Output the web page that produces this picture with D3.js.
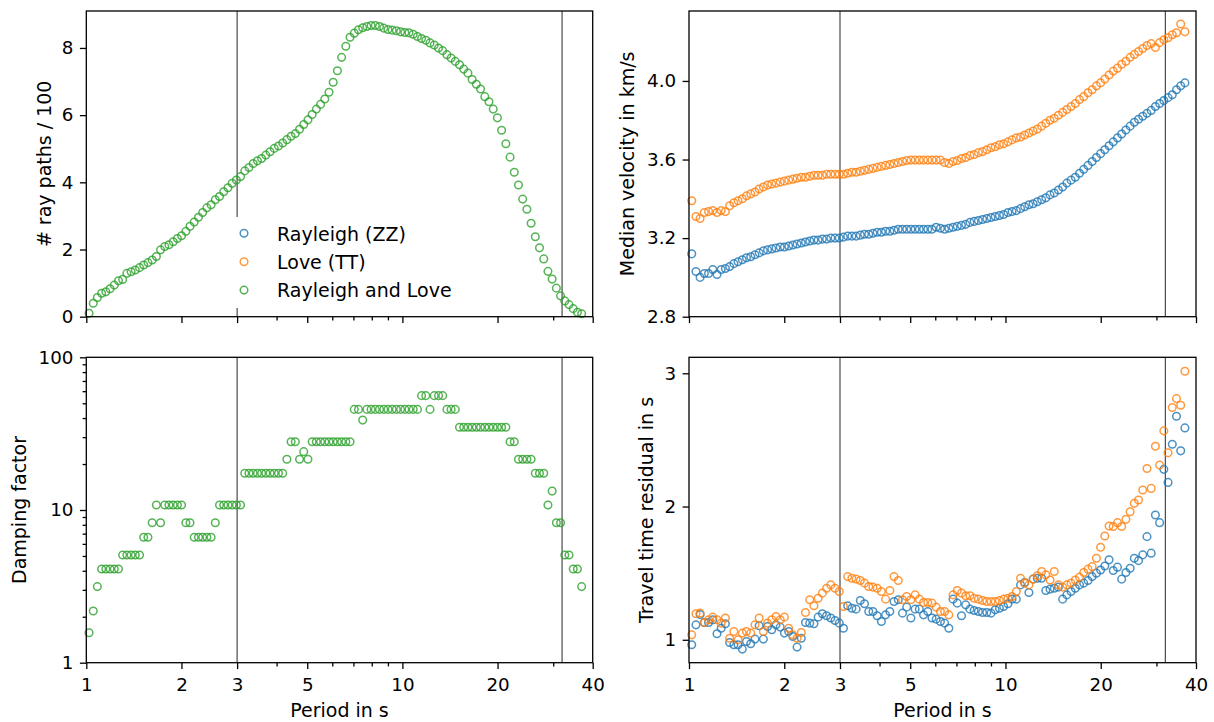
<!DOCTYPE html>
<html>
<head>
<meta charset="utf-8">
<script src="https://cdn.jsdelivr.net/npm/d3@7"></script>
<style>
    body { margin: 0; background: #fff; }
    svg { font-family: "DejaVu Sans", sans-serif; }
</style>
</head>
<body>
<div id="chart"></div>
<script>
let periods = [
    1.020, 1.052, 1.084, 1.118, 1.153, 1.189, 1.226, 1.264, 1.303, 1.344,
    1.386, 1.429, 1.474, 1.519, 1.567, 1.616, 1.666, 1.718, 1.771, 1.826,
    1.883, 1.942, 2.002, 2.065, 2.129, 2.195, 2.264, 2.334, 2.407, 2.482,
    2.559, 2.639, 2.721, 2.806, 2.893, 2.984, 3.076, 3.172, 3.271, 3.373,
    3.478, 3.586, 3.698, 3.813, 3.932, 4.055, 4.181, 4.311, 4.445, 4.584,
    4.727, 4.874, 5.026, 5.182, 5.343, 5.510, 5.682, 5.859, 6.041, 6.229,
    6.423, 6.623, 6.830, 7.042, 7.262, 7.488, 7.721, 7.961, 8.209, 8.465,
    8.729, 9.001, 9.281, 9.570, 9.868, 10.18, 10.49, 10.82, 11.16, 11.50,
    11.86, 12.23, 12.61, 13.01, 13.41, 13.83, 14.26, 14.70, 15.16, 15.63,
    16.12, 16.62, 17.14, 17.67, 18.23, 18.79, 19.38, 19.98, 20.60, 21.25,
    21.91, 22.59, 23.29, 24.02, 24.77, 25.54, 26.33, 27.15, 28.00, 28.87,
    29.77, 30.70, 31.65, 32.64, 33.66, 34.71, 35.79, 36.90
];

// Number of ray paths / 100 (Rayleigh and Love)
let rayPaths = [
    0.10, 0.40, 0.57, 0.70, 0.74, 0.83, 0.94, 1.07, 1.11, 1.29,
    1.34, 1.39, 1.46, 1.54, 1.61, 1.69, 1.79, 1.99, 2.09, 2.14,
    2.23, 2.33, 2.41, 2.54, 2.69, 2.82, 2.96, 3.10, 3.24, 3.33,
    3.48, 3.58, 3.72, 3.84, 3.97, 4.07, 4.17, 4.34, 4.44, 4.56,
    4.64, 4.71, 4.81, 4.91, 5.01, 5.08, 5.17, 5.27, 5.37, 5.45,
    5.58, 5.72, 5.86, 6.02, 6.18, 6.32, 6.48, 6.68, 6.98, 7.32,
    7.72, 8.05, 8.32, 8.44, 8.54, 8.60, 8.64, 8.67, 8.67, 8.64,
    8.59, 8.55, 8.53, 8.51, 8.48, 8.46, 8.45, 8.41, 8.34, 8.28,
    8.23, 8.15, 8.09, 8.00, 7.92, 7.80, 7.70, 7.60, 7.50, 7.37,
    7.25, 7.06, 6.92, 6.78, 6.55, 6.40, 6.18, 5.92, 5.55, 5.15,
    4.75, 4.30, 3.92, 3.50, 3.20, 2.78, 2.38, 2.05, 1.72, 1.35,
    1.12, 0.85, 0.62, 0.47, 0.36, 0.24, 0.13, 0.09
];

// Median velocity in km/s
let velRayleigh = [
    3.12, 3.03, 3.00, 3.02, 3.02, 3.04, 3.015, 3.04, 3.045, 3.055,
    3.07, 3.08, 3.09, 3.10, 3.105, 3.115, 3.125, 3.135, 3.14, 3.145,
    3.15, 3.155, 3.155, 3.16, 3.165, 3.17, 3.175, 3.18, 3.185, 3.19,
    3.19, 3.195, 3.195, 3.20, 3.20, 3.20, 3.205, 3.21, 3.21, 3.21,
    3.215, 3.22, 3.22, 3.225, 3.23, 3.23, 3.235, 3.235, 3.24, 3.245,
    3.245, 3.245, 3.245, 3.245, 3.245, 3.245, 3.245, 3.245, 3.255, 3.25,
    3.245, 3.25, 3.255, 3.26, 3.265, 3.27, 3.28, 3.285, 3.29, 3.295,
    3.30, 3.305, 3.31, 3.315, 3.32, 3.33, 3.335, 3.34, 3.35, 3.36,
    3.37, 3.375, 3.385, 3.395, 3.405, 3.42, 3.43, 3.445, 3.46, 3.48,
    3.495, 3.51, 3.53, 3.55, 3.57, 3.59, 3.61, 3.63, 3.65, 3.67,
    3.69, 3.71, 3.73, 3.75, 3.77, 3.79, 3.805, 3.82, 3.835, 3.85,
    3.87, 3.885, 3.90, 3.915, 3.93, 3.955, 3.975, 3.99
];

let velLove = [
    3.39, 3.31, 3.30, 3.33, 3.335, 3.34, 3.33, 3.34, 3.335, 3.365,
    3.38, 3.39, 3.40, 3.415, 3.425, 3.435, 3.45, 3.46, 3.47, 3.475,
    3.48, 3.485, 3.49, 3.495, 3.50, 3.505, 3.51, 3.51, 3.515, 3.52,
    3.52, 3.52, 3.525, 3.525, 3.525, 3.525, 3.525, 3.53, 3.535, 3.535,
    3.54, 3.545, 3.55, 3.555, 3.56, 3.565, 3.57, 3.575, 3.58, 3.585,
    3.59, 3.595, 3.597, 3.597, 3.597, 3.597, 3.597, 3.597, 3.597, 3.597,
    3.585, 3.58, 3.59, 3.595, 3.605, 3.61, 3.62, 3.625, 3.635, 3.64,
    3.65, 3.66, 3.665, 3.675, 3.68, 3.69, 3.70, 3.71, 3.715, 3.725,
    3.735, 3.745, 3.755, 3.77, 3.785, 3.80, 3.81, 3.825, 3.84, 3.855,
    3.87, 3.885, 3.905, 3.92, 3.94, 3.955, 3.975, 3.99, 4.01, 4.03,
    4.05, 4.065, 4.085, 4.10, 4.12, 4.135, 4.15, 4.165, 4.18, 4.19,
    4.17, 4.195, 4.21, 4.22, 4.235, 4.245, 4.29, 4.25
];

// Damping factor (Rayleigh and Love)
let damping = [
    1.57, 2.18, 3.15, 4.11, 4.11, 4.11, 4.11, 4.11, 5.07, 5.07,
    5.07, 5.07, 5.07, 6.63, 6.63, 8.26, 10.78, 8.26, 10.78, 10.78,
    10.78, 10.78, 10.78, 8.26, 8.26, 6.63, 6.63, 6.63, 6.63, 6.63,
    8.26, 10.78, 10.78, 10.78, 10.78, 10.78, 10.78, 17.4, 17.4, 17.4,
    17.4, 17.4, 17.4, 17.4, 17.4, 17.4, 17.4, 21.5, 28.0, 28.0,
    21.5, 24.1, 21.5, 28.0, 28.0, 28.0, 28.0, 28.0, 28.0, 28.0,
    28.0, 28.0, 28.0, 45.6, 45.6, 38.8, 45.6, 45.6, 45.6, 45.6,
    45.6, 45.6, 45.6, 45.6, 45.6, 45.6, 45.6, 45.6, 45.6, 56.1,
    56.1, 45.6, 56.1, 56.1, 56.1, 45.6, 45.6, 45.6, 34.8, 34.8,
    34.8, 34.8, 34.8, 34.8, 34.8, 34.8, 34.8, 34.8, 34.8, 34.8,
    28.0, 28.0, 21.5, 21.5, 21.5, 21.5, 17.4, 17.4, 17.4, 10.78,
    13.3, 8.26, 8.26, 5.07, 5.07, 4.11, 4.11, 3.15
];

// Travel time residual in s
let resRayleigh = [
    0.963, 1.112, 1.19, 1.13, 1.13, 1.15, 1.045, 1.087, 1.12, 0.98,
    0.963, 0.963, 0.93, 0.987, 0.97, 1.005, 1.105, 1.005, 1.10, 1.075,
    1.112, 1.095, 1.05, 1.062, 1.025, 0.945, 1.012, 1.13, 1.125, 1.12,
    1.17, 1.195, 1.18, 1.163, 1.145, 1.125, 1.087, 1.255, 1.237, 1.23,
    1.295, 1.27, 1.212, 1.212, 1.18, 1.137, 1.187, 1.212, 1.287, 1.30,
    1.20, 1.245, 1.163, 1.23, 1.23, 1.187, 1.212, 1.163, 1.155, 1.137,
    1.125, 1.087, 1.305, 1.275, 1.18, 1.262, 1.23, 1.22, 1.212, 1.205,
    1.205, 1.20, 1.225, 1.237, 1.25, 1.27, 1.305, 1.305, 1.412, 1.43,
    1.355, 1.455, 1.462, 1.462, 1.37, 1.38, 1.387, 1.395, 1.305, 1.337,
    1.362, 1.387, 1.412, 1.425, 1.445, 1.474, 1.50, 1.524, 1.554, 1.60,
    1.52, 1.545, 1.455, 1.505, 1.537, 1.612, 1.594, 1.637, 1.774, 1.65,
    1.936, 1.879, 2.279, 2.181, 2.468, 2.678, 2.418, 2.59
];

let resLove = [
    1.037, 1.195, 1.20, 1.13, 1.15, 1.17, 1.15, 1.125, 1.163, 1.012,
    1.062, 1.0, 1.05, 1.062, 1.05, 1.112, 1.163, 1.062, 1.125, 1.15,
    1.175, 1.15, 1.17, 1.087, 1.037, 1.012, 1.055, 1.205, 1.30, 1.255,
    1.312, 1.35, 1.387, 1.412, 1.387, 1.362, 1.25, 1.474, 1.462, 1.455,
    1.445, 1.425, 1.40, 1.395, 1.387, 1.362, 1.305, 1.37, 1.474, 1.445,
    1.30, 1.325, 1.30, 1.337, 1.305, 1.28, 1.28, 1.275, 1.245, 1.212,
    1.212, 1.187, 1.337, 1.37, 1.35, 1.33, 1.33, 1.312, 1.305, 1.295,
    1.287, 1.287, 1.287, 1.295, 1.305, 1.312, 1.325, 1.362, 1.462, 1.425,
    1.412, 1.455, 1.48, 1.512, 1.487, 1.449, 1.512, 1.412, 1.395, 1.412,
    1.425, 1.449, 1.47, 1.505, 1.53, 1.549, 1.612, 1.694, 1.779, 1.854,
    1.85, 1.879, 1.85, 1.904, 1.961, 2.024, 2.049, 2.124, 2.286, 2.136,
    2.453, 2.311, 2.568, 2.403, 2.743, 2.81, 2.76, 3.015
];

// Tick values
let xMajorTicks = [1, 2, 3, 5, 10, 20, 40];
let xMinorTicks = [4, 6, 7, 8, 9, 30];
let rayTicks = [0, 2, 4, 6, 8];
let velTicks = [2.8, 3.2, 3.6, 4.0];
let dampTicks = [1, 10, 100];
let dampMinorTicks = [2, 3, 4, 5, 6, 7, 8, 9, 20, 30, 40, 50, 60, 70, 80, 90];
let resTicks = [1, 2, 3];
let periodLines = [3, 32];

let legendNames = ["Rayleigh (ZZ)", "Love (TT)", "Rayleigh and Love"];

let blue = "#1f77b4";
let orange = "#ff7f0e";
let green = "#2ca02c";

let width = 1214;
let height = 722;
let tickFont = "18.3px";
let labelFont = "19px";

let svg = d3.select("#chart")
    .append("svg")
    .attr("width", width)
    .attr("height", height);

// styles the tick lines and labels that d3 draws
let styleAxis = function (g) {
    g.select(".domain").remove();
    g.selectAll(".tick line").attr("stroke", "#000").attr("stroke-width", 1.3);
    g.selectAll(".tick text")
        .attr("fill", "#000")
        .style("font-size", tickFont)
        .style("font-family", "DejaVu Sans, sans-serif");
};

/**
 * drawPanel draws one of the four axes with its markers
 */
let drawPanel = function (p) {
    let xScale = d3.scaleLog().domain([1, 40]).range([p.left, p.right]);
    let yScale = p.yScale.range([p.bottom, p.top]);

    let g = svg.append("g");

    // thin lines at 3 s and 32 s
    g.selectAll(".vline")
        .data(periodLines)
        .enter()
        .append("line")
        .attr("x1", function (d) { return xScale(d); })
        .attr("x2", function (d) { return xScale(d); })
        .attr("y1", p.top)
        .attr("y2", p.bottom)
        .attr("stroke", "#3a3a3a")
        .attr("stroke-width", 1.1);

    p.series.forEach(function (s) {
        let pts = periods.map(function (t, i) { return { t: t, v: s.values[i] }; });
        g.append("g")
            .selectAll("circle")
            .data(pts)
            .enter()
            .append("circle")
            .attr("cx", function (d) { return xScale(d.t); })
            .attr("cy", function (d) { return yScale(d.v); })
            .attr("r", 3.8)
            .attr("fill", "none")
            .attr("stroke", s.color)
            .attr("stroke-opacity", 0.8)
            .attr("stroke-width", 1.5);
    });

    // x axis: major and minor ticks
    let xAxis = d3.axisBottom(xScale)
        .tickValues(xMajorTicks)
        .tickFormat(p.xLabels ? d3.format("d") : function () { return ""; })
        .tickSize(6.4)
        .tickPadding(9)
        .tickSizeOuter(0);
    g.append("g")
        .attr("transform", "translate(0," + p.bottom + ")")
        .call(xAxis)
        .call(styleAxis);

    let xMinor = d3.axisBottom(xScale)
        .tickValues(xMinorTicks)
        .tickFormat(function () { return ""; })
        .tickSize(3.7)
        .tickSizeOuter(0);
    g.append("g")
        .attr("transform", "translate(0," + p.bottom + ")")
        .call(xMinor)
        .call(styleAxis);

    // y axis
    let yAxis = d3.axisLeft(yScale)
        .tickValues(p.yTicks)
        .tickFormat(p.yFormat)
        .tickSize(6.4)
        .tickPadding(6.5)
        .tickSizeOuter(0);
    g.append("g")
        .attr("transform", "translate(" + p.left + ",0)")
        .call(yAxis)
        .call(styleAxis);

    if (p.yMinor) {
        let yMinor = d3.axisLeft(yScale)
            .tickValues(p.yMinor)
            .tickFormat(function () { return ""; })
            .tickSize(3.7)
            .tickSizeOuter(0);
        g.append("g")
            .attr("transform", "translate(" + p.left + ",0)")
            .call(yMinor)
            .call(styleAxis);
    }

    // frame
    g.append("rect")
        .attr("x", p.left)
        .attr("y", p.top)
        .attr("width", p.right - p.left)
        .attr("height", p.bottom - p.top)
        .attr("fill", "none")
        .attr("stroke", "#000")
        .attr("stroke-width", 1.3);

    // y label
    g.append("text")
        .attr("transform", "translate(" + p.yLabelX + "," + ((p.top + p.bottom) / 2) + ") rotate(-90)")
        .attr("text-anchor", "middle")
        .style("font-size", labelFont)
        .text(p.yLabel);

    if (p.xLabels) {
        g.append("text")
            .attr("x", (p.left + p.right) / 2)
            .attr("y", 716.7)
            .attr("text-anchor", "middle")
            .style("font-size", labelFont)
            .text("Period in s");
    }
    return g;
};

let leftX = [86.3, 592.7];
let rightX = [689, 1196];
let topY = [11, 316.7];
let bottomY = [357.3, 662.7];

let rayPanel = drawPanel({
    left: leftX[0], right: leftX[1], top: topY[0], bottom: topY[1],
    yScale: d3.scaleLinear().domain([0, 9.1]),
    yTicks: rayTicks, yFormat: d3.format("d"),
    yLabel: "# ray paths / 100", yLabelX: 50.5,
    xLabels: false,
    series: [{ values: rayPaths, color: green }]
});

drawPanel({
    left: rightX[0], right: rightX[1], top: topY[0], bottom: topY[1],
    yScale: d3.scaleLinear().domain([2.8, 4.356]),
    yTicks: velTicks, yFormat: d3.format(".1f"),
    yLabel: "Median velocity in km/s", yLabelX: 634.3,
    xLabels: false,
    series: [{ values: velRayleigh, color: blue }, { values: velLove, color: orange }]
});

drawPanel({
    left: leftX[0], right: leftX[1], top: bottomY[0], bottom: bottomY[1],
    yScale: d3.scaleLog().domain([1, 100]),
    yTicks: dampTicks, yMinor: dampMinorTicks, yFormat: d3.format("d"),
    yLabel: "Damping factor", yLabelX: 26,
    xLabels: true,
    series: [{ values: damping, color: green }]
});

drawPanel({
    left: rightX[0], right: rightX[1], top: bottomY[0], bottom: bottomY[1],
    yScale: d3.scaleLinear().domain([0.828, 3.12]),
    yTicks: resTicks, yFormat: d3.format("d"),
    yLabel: "Travel time residual in s", yLabelX: 653.3,
    xLabels: true,
    series: [{ values: resRayleigh, color: blue }, { values: resLove, color: orange }]
});

// Legend in the first panel
let legendColors = [blue, orange, green];
let legend = rayPanel.append("g");
legend.append("rect")
    .attr("x", 233)
    .attr("y", 217)
    .attr("width", 232)
    .attr("height", 91)
    .attr("fill", "#fff");

let rows = legend.selectAll(".row")
    .data(legendNames)
    .enter()
    .append("g")
    .attr("transform", function (d, i) { return "translate(244," + (233.3 + i * 28.4) + ")"; });

rows.append("circle")
    .attr("r", 3.8)
    .attr("fill", "none")
    .attr("stroke", function (d, i) { return legendColors[i]; })
    .attr("stroke-opacity", 0.8)
    .attr("stroke-width", 1.5);

rows.append("text")
    .attr("x", 33)
    .attr("y", 7.3)
    .style("font-size", labelFont)
    .text(function (d) { return d; });
</script>
</body>
</html>
